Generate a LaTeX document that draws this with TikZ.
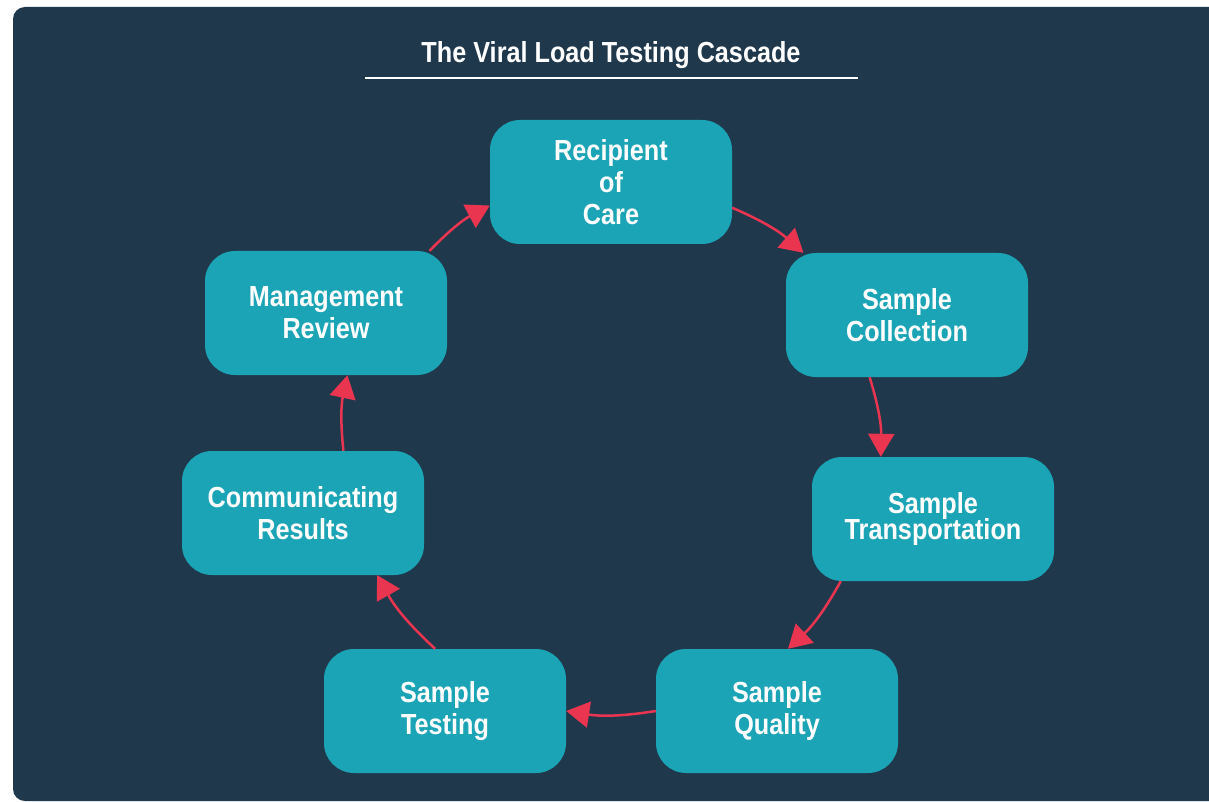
\documentclass[tikz,border=0pt]{standalone}
\usepackage{fontspec}
\setmainfont{Liberation Sans}[FakeStretch=0.87]
\usetikzlibrary{arrows.meta,calc}
\definecolor{bgnavy}{HTML}{1F384B}
\definecolor{boxteal}{HTML}{1BA4B5}
\definecolor{arrred}{HTML}{EA3550}
\tikzset{
  stepbox/.style={draw=none, fill=boxteal, rounded corners=30pt, minimum width=242pt, minimum height=124pt,
    inner sep=0pt, align=center, text=white, font=\fontsize{29}{32}\selectfont\bfseries},
  flowarrow/.style={draw=arrred, line width=2.5pt, -{Triangle[length=23pt,width=26pt]}, bend left=9}
}
\begin{document}
\begin{tikzpicture}[x=1pt,y=1pt]
\useasboundingbox (0,0) rectangle (1209,-802);
\fill[white] (0,0) rectangle (1209,-802);
\fill[bgnavy, rounded corners=12pt] (13,-7) rectangle (1240,-801);
% title
\node[text=white, font=\fontsize{29}{32}\selectfont\bfseries, anchor=base] (title) at (611,-63) {The Viral Load Testing Cascade};
\coordinate (ulL) at (365,-78);
\coordinate (ulR) at (858,-78);
\draw[white, line width=2.5pt] (ulL) -- (ulR);
% nodes
\node[stepbox] (rec) at (611,-182) {Recipient\\of\\Care};
\node[stepbox] (col) at (907,-315) {Sample\\Collection};
\node[stepbox] (tra) at (933,-519) {Sample\\[-6pt]Transportation};
\node[stepbox] (qua) at (777,-711) {Sample\\Quality};
\node[stepbox] (tes) at (445,-711) {Sample\\Testing};
\node[stepbox] (com) at (303,-513) {Communicating\\Results};
\node[stepbox] (man) at (326,-313) {Management\\Review};
% arrows
\draw[flowarrow] (rec.-12) to (col.149.6);
\draw[flowarrow] (col.239.9) to (tra.130.5);
\draw[flowarrow] (tra.214.6) to (qua.80.8);
\draw[flowarrow] (qua.180.5) to (tes.-0.5);
\draw[flowarrow] (tes.99.2) to (com.-40.7);
\draw[flowarrow] (com.57.2) to (man.-71.3);
\draw[flowarrow] (man.31.5) to (rec.191.7);
\end{tikzpicture}
\end{document}
